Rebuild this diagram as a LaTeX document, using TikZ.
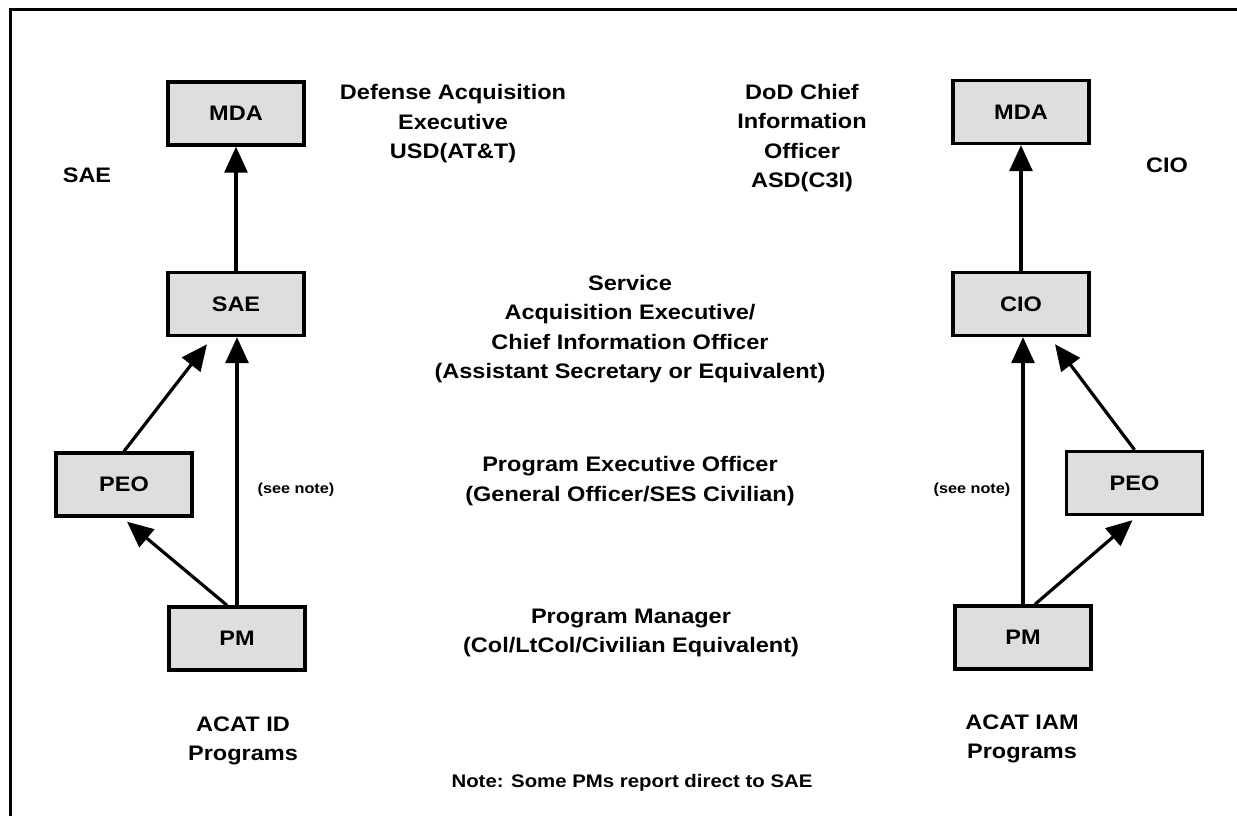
\documentclass[tikz,border=0pt]{standalone}
\usepackage{fontspec}
\setmainfont{Liberation Sans}[FakeStretch=1.12]
\usetikzlibrary{arrows.meta,calc}
\tikzset{
  orgbox/.style={draw=black, line width=3.4pt, fill=black!13, minimum width=136pt, minimum height=63pt, inner sep=0pt, font=\fontsize{21}{25}\selectfont\bfseries},
  lbl/.style={inner sep=0pt, align=center, font=\fontsize{21}{29.5}\selectfont\bfseries},
  smalllbl/.style={inner sep=0pt, align=center, font=\fontsize{14.5}{17}\selectfont\bfseries},
  notelbl/.style={inner sep=0pt, align=center, font=\fontsize{18.2}{22}\selectfont\bfseries},
  conn/.style={line width=3.2pt, -{Triangle[length=26pt,width=23pt]}},
  frameline/.style={line width=3pt}
}
\begin{document}
\begin{tikzpicture}[x=1pt,y=-1pt]
\useasboundingbox (0,0) rectangle (1237,816);
% frame
\coordinate (fbl) at (10,816);
\coordinate (ftl) at (10,10);
\coordinate (ftr) at (1237,10);
\draw[frameline] (fbl) -- (ftl) -- (ftr);

% left column boxes
\node[orgbox] (lMDA) at (236,113.5) {MDA};
\node[orgbox] (lSAE) at (236,304) {SAE};
\node[orgbox] (lPEO) at (124,484.5) {PEO};
\node[orgbox] (lPM)  at (237,638.5) {PM};

% right column boxes
\node[orgbox] (rMDA) at (1021,112) {MDA};
\node[orgbox] (rCIO) at (1021,304) {CIO};
\node[orgbox] (rPEO) at (1134.5,483) {PEO};
\node[orgbox] (rPM)  at (1023,637.5) {PM};

% left arrows
\draw[conn] (lSAE.north) -- (lMDA.south);
\draw[conn] (lPEO.north) -- ([xshift=-29pt,yshift=-7pt]lSAE.south);
\draw[conn] (lPM.north) -- (lPM.north |- lSAE.south);
\draw[conn] ([xshift=-10pt]lPM.north) -- ([xshift=3pt,yshift=-4pt]lPEO.south);

% right arrows
\draw[conn] (rCIO.north) -- (rMDA.south);
\draw[conn] (rPM.north) -- (rPM.north |- rCIO.south);
\draw[conn] ([xshift=12pt]rPM.north) -- ([xshift=-2pt,yshift=-4pt]rPEO.south);
\draw[conn] (rPEO.north) -- ([xshift=34pt,yshift=-7pt]rCIO.south);

% labels
\node[lbl] (tSAE) at (87,175) {SAE};
\node[lbl] (tCIO) at (1167,165) {CIO};
\node[lbl] (tDAE) at (453,124) {Defense Acquisition\\Executive\\USD(AT\&T)};
\node[lbl] (tDoD) at (802,138) {DoD Chief\\Information\\Officer\\ASD(C3I)};
\node[lbl] (tSvc) at (630,329) {Service\\Acquisition Executive/\\Chief Information Officer\\(Assistant Secretary or Equivalent)};
\node[lbl] (tPEO) at (630,481) {Program Executive Officer\\(General Officer/SES Civilian)};
\node[lbl] (tPM) at (631,633) {Program Manager\\(Col/LtCol/Civilian Equivalent)};
\node[lbl] (tACID) at (243,741) {ACAT ID\\Programs};
\node[lbl] (tACIAM) at (1022,739) {ACAT IAM\\Programs};
\node[smalllbl] (tSeeL) at (296,490) {(see note)};
\node[smalllbl] (tSeeR) at (972,490) {(see note)};
\node[notelbl] (tNote) at (632,783) {Note: Some PMs report direct to SAE};
\end{tikzpicture}
\end{document}
